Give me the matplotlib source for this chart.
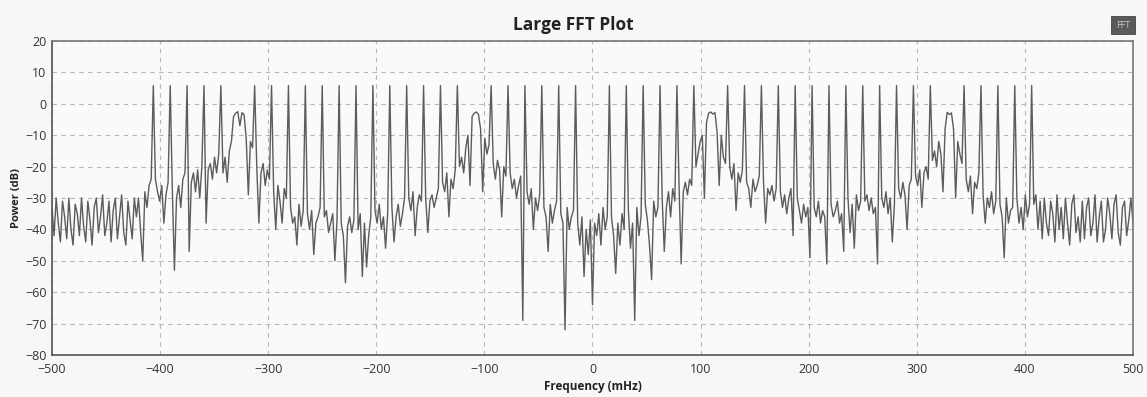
import matplotlib
matplotlib.use("Agg")
import matplotlib.pyplot as plt
from matplotlib.patches import Rectangle
import numpy as np

# power per FFT bin (dB), 513 bins spanning -500..500 mHz
edge_left = [
    -33, -42, -30, -38, -44, -31, -36, -43,
    -30, -40, -45, -32, -35, -42, -30, -39,
    -44, -31, -37, -45, -33, -30, -41, -36,
    -29, -42, -38, -31, -44, -34, -30, -43,
    -36, -29, -41, -45, -31, -37, -43, -30,
    -36, -30, -41, -50, -28, -33, -26, -24,
]
band_left = [
    5.8, -24, -28, -31, -26, -38, -29, -25,
    5.8, -27, -53, -30, -26, -33, -24, -22,
    5.8, -47, -25, -22, -28, -21, -30, -20,
    5.8, -38, -21, -19, -24, -17, -22, -16,
    5.8, -22, -17, -25, -15, -12, -4, -3,
    -2.5, -7, -2.8, -3.5, -11, -29, -12, -14,
    5.8, -20, -38, -22, -19, -26, -21, -24,
    5.8, -28, -40, -26, -31, -38, -27, -30,
    5.8, -33, -38, -36, -45, -32, -39, -34,
    5.8, -35, -40, -34, -48, -38, -36, -33,
    5.8, -36, -34, -41, -38, -35, -50, -37,
    5.8, -38, -42, -57, -39, -36, -41, -37,
    5.8, -40, -35, -55, -38, -52, -42, -36,
    5.8, -34, -38, -32, -40, -36, -46, -35,
    5.8, -33, -44, -36, -32, -39, -35, -30,
    5.8, -30, -34, -28, -42, -33, -29, -31,
    5.8, -30, -41, -31, -29, -33, -30, -27,
    5.8, -25, -28, -22, -36, -24, -27, -21,
    5.8, -20, -17, -22, -14, -10, -26, -4,
    -3, -2.6, -3.4, -8, -28, -11, -16, -13,
    5.8, -19, -24, -18, -21, -36, -20, -23,
]
center = [
    5.8, -22, -27, -24, -30, -26, -23, -69,
    5.8, -28, -32, -27, -40, -30, -34, -29,
    5.8, -33, -36, -47, -32, -38, -34, -31,
    5.8, -35, -38, -72, -33, -40, -36, -34,
    5.8, -38, -45, -36, -55, -40, -48, -37,
    -64, -38, -42, -35, -45, -33, -40, -36,
    5.8, -36, -42, -54, -38, -45, -35, -40,
    5.8, -34, -46, -38, -69, -33, -42, -36,
    5.8, -32, -37, -45, -56, -31, -36, -33,
    5.8, -30, -47, -33, -28, -36, -27, -31,
    5.8, -26, -51, -28, -25, -29, -24, -26,
]
band_right = [
    5.8, -20, -16, -12, -10, -30, -6, -3,
    -2.6, -3.3, -2.8, -9, -26, -10, -17, -19,
    5.8, -20, -24, -19, -34, -22, -25, -21,
    5.8, -25, -27, -33, -24, -28, -26, -23,
    5.8, -25, -38, -27, -29, -26, -31, -27,
    5.8, -28, -33, -29, -35, -30, -27, -42,
    5.8, -30, -34, -38, -32, -36, -33, -49,
    5.8, -33, -36, -31, -38, -34, -36, -51,
    5.8, -32, -36, -34, -31, -38, -35, -47,
    5.8, -30, -41, -32, -46, -29, -34, -31,
    5.8, -31, -29, -34, -30, -35, -33, -51,
    5.8, -30, -33, -28, -35, -30, -44, -32,
    5.8, -27, -30, -25, -29, -40, -26, -24,
    5.8, -23, -26, -21, -33, -22, -20, -24,
    5.8, -18, -15, -20, -12, -16, -28, -8,
    -2.7, -3.4, -2.9, -8, -30, -12, -16, -19,
    5.8, -24, -28, -23, -35, -25, -27, -22,
    5.8, -29, -38, -30, -33, -28, -35, -31,
    5.8, -32, -36, -49, -30, -38, -34, -33,
    5.8, -30, -38, -33, -40, -29, -36, -32,
    5.8, -32, -29, -40, -31, -43, -30, -38,
]
edge_right = [
    -42, -31, -35, -44, -29, -40, -33, -43,
    -30, -38, -45, -32, -29, -41, -36, -44,
    -31, -43, -33, -30, -42, -38, -29, -44,
    -36, -31, -44, -40, -30, -35, -43, -32,
    -29, -41, -45, -33, -31, -42, -37, -30,
    -38,
]

power = edge_left + band_left + center + band_right + edge_right
freq = np.linspace(-500, 500, len(power))  # FFT bin centres

fig = plt.figure(figsize=(11.47, 3.97), dpi=100, facecolor='#f7f7f7')
ax = fig.add_axes([0.0453, 0.1058, 0.9425, 0.7909])
ax.set_facecolor('#fafafa')

ax.plot(freq, power, color='#5c5c5c', lw=1.0)

ax.set_xlim(-500, 500)
ax.set_ylim(-80, 20)
ax.set_xticks(np.arange(-500, 501, 100))
ax.set_yticks(np.arange(-80, 21, 10))
ax.grid(True, color='#b8b8b8', ls=(0, (4, 4)), lw=0.8)
ax.tick_params(axis='y', length=0, labelsize=9, colors='#333333', pad=4)
ax.tick_params(axis='x', length=0, labelsize=9, colors='#333333', pad=6)
for s in ax.spines.values():
    s.set_color('#555555')
    s.set_linewidth(1.2)
ax.spines['top'].set_color('#777777')
ax.spines['right'].set_color('#777777')

fam = ['Open Sans', 'DejaVu Sans']
for lab in ax.get_xticklabels() + ax.get_yticklabels():
    lab.set_family(fam)

# title sits centred on the whole window, not the axes
fig.text(0.5, 0.937, 'Large FFT Plot', fontsize=12.5, fontweight='bold',
         family=fam, color='#222222', ha='center', va='center')
ax.set_xlabel('Frequency (mHz)', fontsize=8.5, fontweight='bold', family=fam,
              color='#222222', labelpad=3)
ax.set_ylabel('Power (dB)', fontsize=8, fontweight='bold', family=fam,
              color='#222222', labelpad=2)

# small "FFT" button in the corner
fig.add_artist(Rectangle((0.9686, 0.9144), 0.0209, 0.0453, transform=fig.transFigure,
                         fc='#5a5a5a', ec='#444444', lw=0.6))
fig.text(0.979, 0.937, 'FFT', fontsize=6.5, color='#c8c8c8', ha='center',
         va='center', family=fam)

fig.savefig('out.png', dpi=100, facecolor=fig.get_facecolor())
